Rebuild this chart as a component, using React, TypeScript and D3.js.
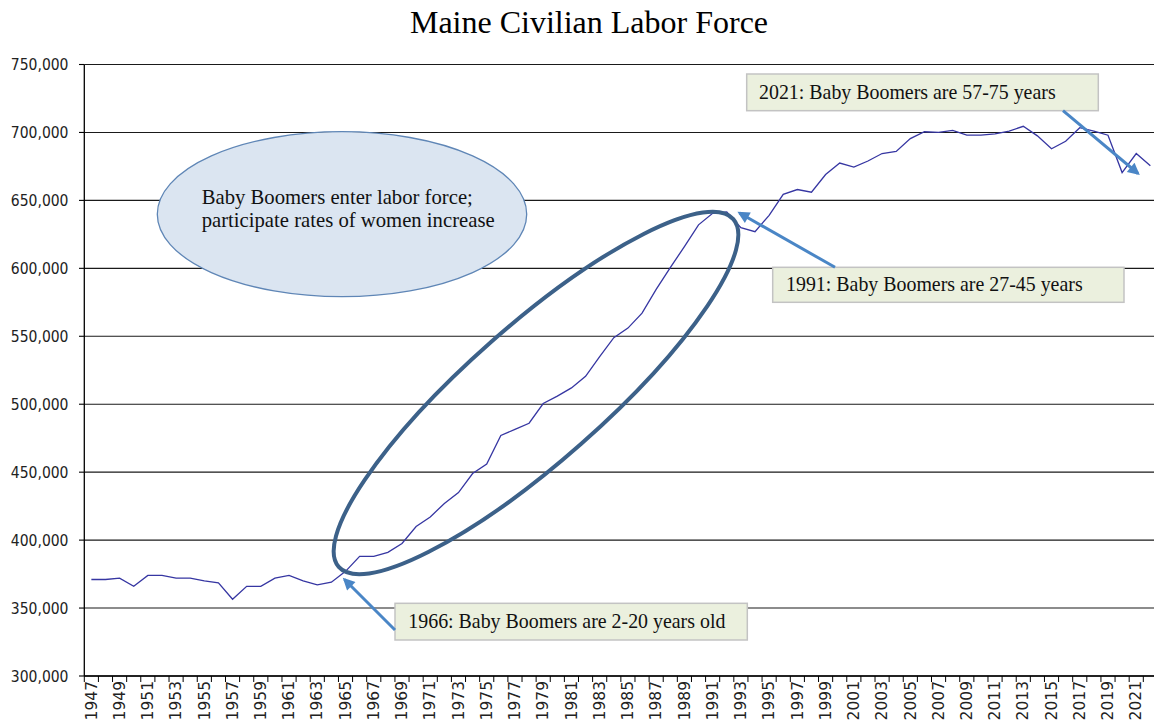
import React from "react";
import * as d3 from "d3";

const years: number[] = d3.range(1947, 2023);
const laborForce: number[] = [
  371000, 371000, 372000, 366000, 374000, 374000, 372000, 372000, 370000, 368500,
  356500, 366000, 366000, 372000, 374000, 370000, 367000, 369000, 377000, 388000,
  388000, 391000, 397500, 410000, 417000, 427000, 435000, 449000, 456000, 477000,
  481500, 486000, 500500, 506000, 512000, 520500, 535000, 549000, 556000, 567000,
  584500, 600500, 616000, 632000, 640500, 641500, 630000, 627000, 639000, 654500,
  658000, 656000, 669000, 677500, 674500, 679000, 684500, 686000, 695500, 700500,
  700000, 701500, 698000, 698000, 699000, 701000, 704500, 697500, 688000, 693500,
  703500, 701000, 698000, 670500, 684500, 675500,
];
const yTicks: number[] = [300000, 350000, 400000, 450000, 500000, 550000, 600000, 650000, 700000, 750000];
const title = "Maine Civilian Labor Force";
const ellipseText = ["Baby Boomers enter labor force;", "participate rates of women increase"];
const callouts = [
  "2021: Baby Boomers are 57-75 years",
  "1991: Baby Boomers are 27-45 years",
  "1966: Baby Boomers are 2-20 years old",
];

const W = 1154;
const H = 726;
const plotLeft = 84.3;
const plotRight = 84.3 + 14.12 * 76;
const plotTop = 64.5;
const plotBottom = 676;

export default function App() {
  const x = d3
    .scaleBand<number>()
    .domain(years)
    .range([plotLeft, plotRight])
    .paddingInner(0)
    .paddingOuter(0);
  const y = d3.scaleLinear().domain([300000, 750000]).range([plotBottom, plotTop]);
  const bw = x.bandwidth();
  const cx = (yr: number) => (x(yr) as number) + bw / 2;

  const line = d3
    .line<number>()
    .x((_, i) => cx(years[i]))
    .y((d) => y(d));

  const fmt = d3.format(",");
  const serif = "'Liberation Serif', 'Times New Roman', serif";
  const axisFont = "'DejaVu Sans Condensed', 'DejaVu Sans', sans-serif";
  const arrowColor = "#4a86c6";

  const boxes = [
    { b: [746.7, 74, 1098.3, 110.7], tx: 759, ty: 98.5, a: [1063, 110.7, 1138, 173.5] },
    { b: [772.7, 267.3, 1124, 302.3], tx: 786, ty: 291, a: [835, 267.3, 739.5, 213] },
    { b: [395, 603.3, 747.3, 640], tx: 408.3, ty: 628, a: [395, 630, 344.5, 579.5] },
  ];

  return (
    <div style={{ position: "absolute", left: 0, top: 0 }}>
      <svg width={W} height={H} style={{ display: "block", background: "#fff" }}>
        <defs>
          <marker
            id="arrowHead"
            viewBox="0 0 10 10"
            refX="8"
            refY="5"
            markerWidth="14"
            markerHeight="12"
            markerUnits="userSpaceOnUse"
            orient="auto"
          >
            <path d="M0,0 L10,5 L0,10 z" fill={arrowColor} />
          </marker>
        </defs>

        <text x={589} y={33} textAnchor="middle" fontFamily={serif} fontSize={32} fill="#000">
          {title}
        </text>

        {yTicks.map((t) => (
          <line key={"g" + t} x1={plotLeft} x2={plotRight} y1={y(t)} y2={y(t)} stroke="#1a1a1a" strokeWidth={1.1} />
        ))}
        {yTicks.map((t) => (
          <g key={"yt" + t}>
            <line x1={79} x2={plotLeft} y1={y(t)} y2={y(t)} stroke="#000" strokeWidth={1.1} />
            <text
              x={68.5}
              y={y(t)}
              dy="0.36em"
              textAnchor="end"
              fontFamily={axisFont}
              fontStretch="condensed"
              fontSize={15.5}
              fill="#222"
            >
              {fmt(t)}
            </text>
          </g>
        ))}
        <line x1={plotLeft} x2={plotLeft} y1={plotTop} y2={plotBottom} stroke="#000" strokeWidth={1.3} />
        <line x1={plotLeft} x2={plotRight} y1={plotBottom} y2={plotBottom} stroke="#000" strokeWidth={1.3} />
        {years.map((yr) => (
          <line
            key={"xt" + yr}
            x1={x(yr) as number}
            x2={x(yr) as number}
            y1={plotBottom}
            y2={plotBottom + 6}
            stroke="#000"
            strokeWidth={1}
          />
        ))}
        {years
          .filter((yr) => (yr - 1947) % 2 === 0)
          .map((yr) => (
            <text
              key={"xl" + yr}
              transform={`translate(${cx(yr) + 5.2},${plotBottom + 5}) rotate(-90)`}
              textAnchor="end"
              fontFamily="'DejaVu Sans', sans-serif"
              fontSize={15.5}
              fill="#222"
            >
              {yr}
            </text>
          ))}

        <path d={line(laborForce) || ""} fill="none" stroke="#3636a2" strokeWidth={1.3} />

        <ellipse cx={342} cy={214.2} rx={184.7} ry={82.5} fill="#dbe5f1" stroke="#5f86b6" strokeWidth={1.3} />
        {ellipseText.map((t, i) => (
          <text key={"et" + i} x={201.7} y={204 + i * 22.7} fontFamily={serif} fontSize={20.7} fill="#111">
            {t}
          </text>
        ))}

        <ellipse
          cx={0}
          cy={0}
          rx={263}
          ry={68}
          transform="translate(536,393) rotate(-41.4)"
          fill="none"
          stroke="#3c6189"
          strokeWidth={4}
        />

        {boxes.map((bx, i) => (
          <g key={"cb" + i}>
            <rect
              x={bx.b[0]}
              y={bx.b[1]}
              width={bx.b[2] - bx.b[0]}
              height={bx.b[3] - bx.b[1]}
              fill="#ebf0de"
              stroke="#c3c3c3"
              strokeWidth={1.5}
            />
            <text x={bx.tx} y={bx.ty} fontFamily={serif} fontSize={19.9} fill="#111">
              {callouts[i]}
            </text>
            <line
              x1={bx.a[0]}
              y1={bx.a[1]}
              x2={bx.a[2]}
              y2={bx.a[3]}
              stroke={arrowColor}
              strokeWidth={3}
              markerEnd="url(#arrowHead)"
            />
          </g>
        ))}
      </svg>
    </div>
  );
}
